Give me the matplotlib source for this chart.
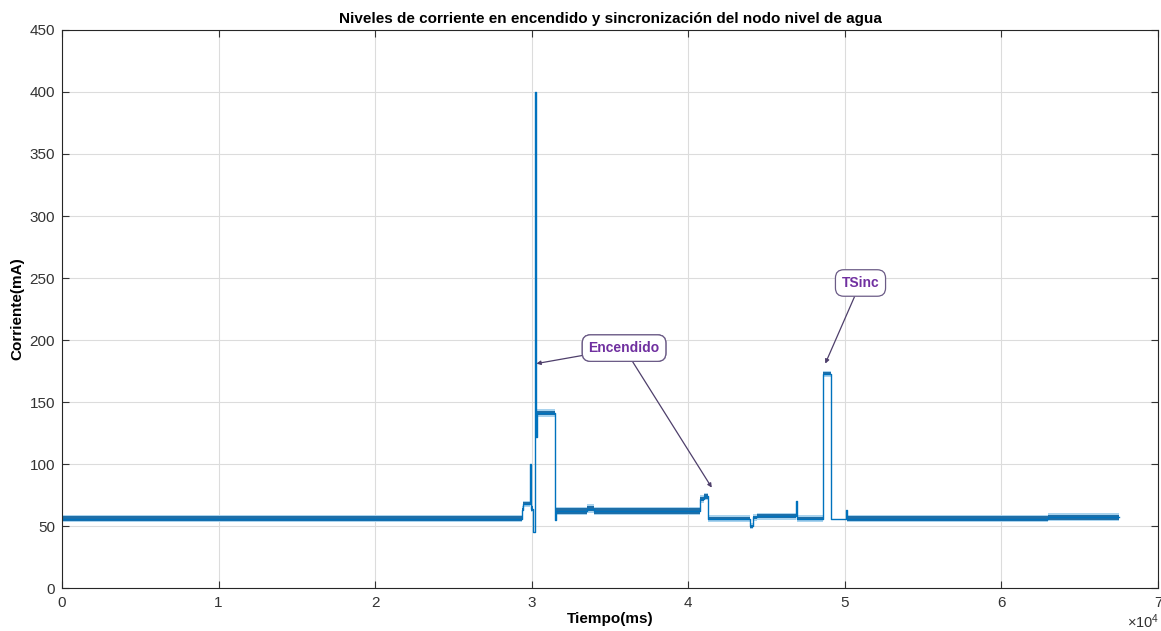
import numpy as np
import matplotlib
matplotlib.use("Agg")
import matplotlib.pyplot as plt

plt.rcParams['font.family'] = ['Liberation Sans', 'DejaVu Sans']
plt.rcParams['mathtext.default'] = 'regular'

# inicio de cada tramo (ms) y nivel de corriente (mA) del tramo
t_ini = [0, 29350, 29450, 29900, 29950, 30060, 30200, 30250, 30320, 31460, 31540,
         33500, 34000, 40760, 41000, 41290, 43970, 44160, 44400, 46880, 46930,
         48630, 49140, 50080, 50120, 63000]
nivel = [56, 63, 68, 100, 64, 45, 400, 122, 141, 55, 62,
         64, 62, 72, 74, 56, 50, 57, 58, 70, 56,
         173, 56, 63, 56, 57]
# semiancho aproximado del ruido en cada tramo (mA)
ruido = [1.8, 1.8, 1.2, 0, 1.8, 0, 0, 0, 1.8, 0, 2.2,
         2.2, 2.2, 1.8, 1.8, 1.5, 1.2, 1.5, 1.5, 0, 1.5,
         1.2, 0, 0, 1.8, 2.0]
t_fin = 67500

t = np.array(t_ini + [t_fin])
y = np.array(nivel + [nivel[-1]])
r = np.array(ruido + [ruido[-1]])

fig = plt.figure(figsize=(11.61, 6.31), dpi=100)
ax = fig.add_axes([0.0534, 0.068, 0.944, 0.8845])

azul = '#0072BD'
ax.fill_between(t, y - r - 1.2 * (r > 0), y + r + 1.2 * (r > 0), step='post',
                color='#a9d3ee', lw=0)
ax.fill_between(t, y - r, y + r, step='post', color='#1f6fa8', lw=0)
ax.step(t, y, where='post', color=azul, lw=1.0)

ax.set_xlim(0, 70000)
ax.set_ylim(0, 450)
ax.set_xticks(np.arange(0, 70001, 10000))
ax.set_xticklabels([str(v) for v in range(8)])
ax.set_yticks(np.arange(0, 451, 50))
ax.grid(True, color='#dcdcdc', lw=0.8)
ax.set_axisbelow(True)
ax.tick_params(direction='in', top=True, right=True, labelsize=11,
               colors='#333333', length=5, width=0.8)
ax.tick_params(axis='x', pad=6)
ax.tick_params(axis='y', pad=5)
for s in ax.spines.values():
    s.set_color('#262626')
    s.set_linewidth(0.8)
fig.text(0.9985, 0.0, r'$\times10^{4}$', ha='right', va='bottom',
         fontsize=10.5, color='#333333')

ax.set_title('Niveles de corriente en encendido y sincronización del nodo nivel de agua',
             fontsize=11, fontweight='bold', pad=5)
ax.set_xlabel('Tiempo(ms)', fontsize=11, fontweight='bold', labelpad=1)
ax.set_ylabel('Corriente(mA)', fontsize=11, fontweight='bold', labelpad=4)

caja = dict(boxstyle='round,pad=0.45,rounding_size=0.6', fc='white', ec='#6b5b86', lw=0.9)
flecha = dict(arrowstyle='-|>', color='#4e3f6b', lw=0.9, mutation_scale=6,
              shrinkA=0, shrinkB=0)
txt = dict(color='#7030A0', fontsize=10, fontweight='bold', ha='center', va='center',
           bbox=caja)

ax.annotate('Encendido', xy=(30300, 181), xytext=(35900, 193.5), arrowprops=flecha, **txt)
ax.annotate('Encendido', xy=(41500, 81), xytext=(35900, 193.5), arrowprops=flecha, **txt)
ax.annotate('TSinc', xy=(48750, 181), xytext=(51000, 246), arrowprops=flecha, **txt)

fig.savefig('out.png', dpi=100)
